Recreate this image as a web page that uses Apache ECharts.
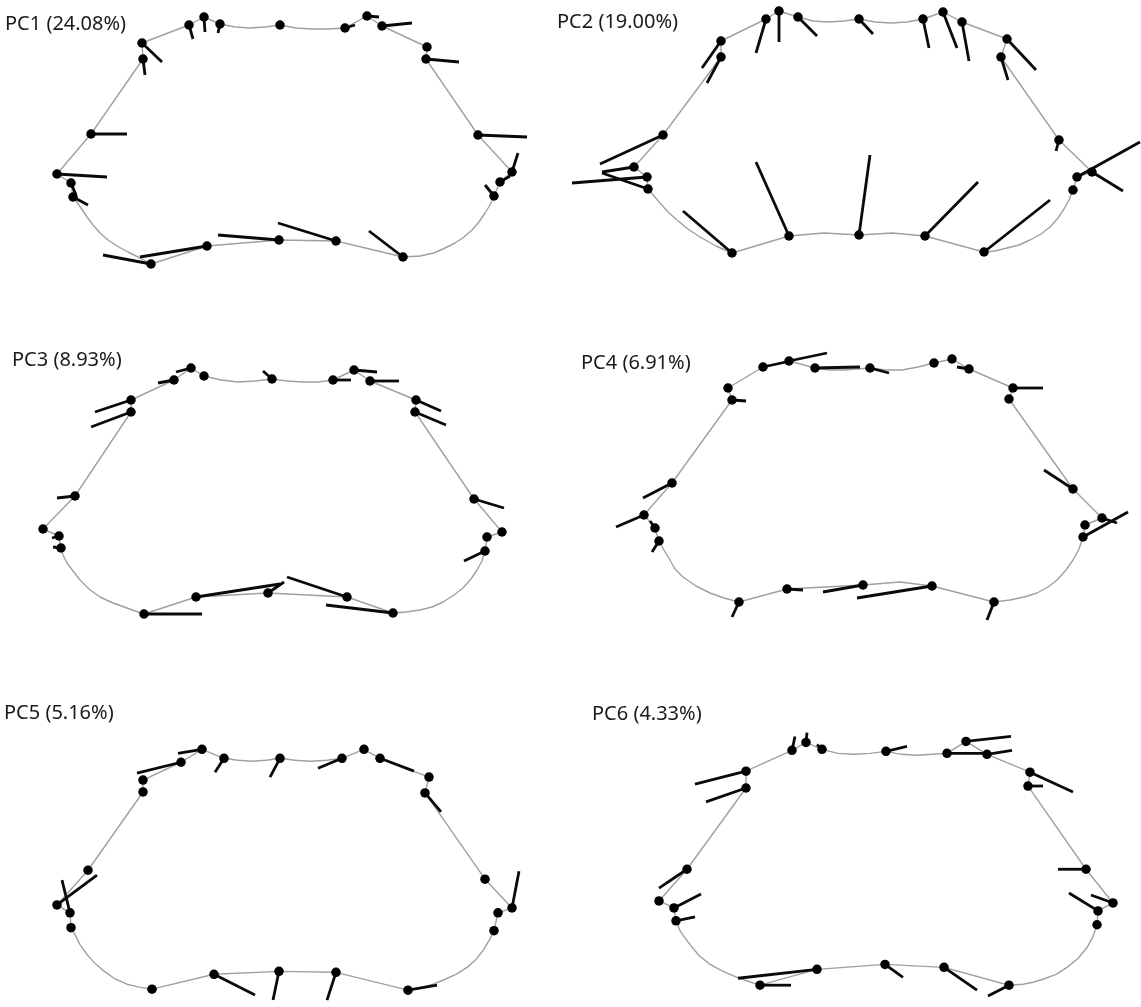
<!DOCTYPE html>
<html>
<head>
<meta charset="utf-8">
<title>PC shape changes</title>
<script src="https://cdn.jsdelivr.net/npm/echarts@6/dist/echarts.min.js"></script>
<style>
  html, body { margin: 0; padding: 0; background: #fff; }
  #chart { width: 1141px; height: 1007px; }
</style>
</head>
<body>
<div id="chart"></div>
<script>
// panel labels
var pcTitles = ['PC1 (24.08%)', 'PC2 (19.00%)', 'PC3 (8.93%)', 'PC4 (6.91%)', 'PC5 (5.16%)', 'PC6 (4.33%)'];

// landmarks: [x, y, vector end x, vector end y] in panel units
var pc1Dots = [
  [142, 43, 162, 62], [143, 59, 145, 75], [189, 25, 193, 39], [204, 17, 205, 32], [220, 24, 218, 33], [280, 25, 280, 25],
  [345, 28, 355, 25], [367, 16, 379, 17], [382, 26, 412, 23], [427, 47, 427, 47], [426, 59, 459, 62], [478, 135, 527, 137],
  [512, 172, 518, 153], [500, 182, 510, 176], [494, 196, 485, 185], [403, 257, 369, 231], [336, 241, 278, 223], [279, 240, 218, 235],
  [207, 246, 140, 257], [151, 264, 103, 255], [73, 197, 88, 205], [71, 183, 76, 195], [57, 174, 107, 177], [91, 134, 127, 134]
];
// outline through the landmarks, with extra points on the curved parts
var pc1Outline = [
  [142, 43], [189, 25], [204, 17], [220, 24], [235, 27], [250, 28], [265, 27], [280, 25], [296, 28], [312, 29], [328, 29], [345, 28],
  [367, 16], [382, 26], [427, 47], [426, 59], [478, 135], [512, 172], [500, 182], [494, 196], [490, 205], [485, 213], [479, 222],
  [472, 230], [464, 237], [455, 243], [445, 248], [434, 253], [420, 256], [403, 257], [336, 241], [279, 240], [207, 246], [151, 264],
  [140, 258], [128, 252], [117, 246], [108, 240], [100, 233], [93, 225], [87, 217], [81, 208], [76, 201], [73, 197], [71, 183],
  [57, 174], [91, 134], [143, 59], [142, 43]
];

var pc2Dots = [
  [151, 41, 132, 68], [151, 57, 137, 83], [196, 19, 186, 53], [209, 11, 209, 42], [228, 17, 247, 36], [289, 19, 303, 34],
  [353, 19, 359, 48], [373, 12, 387, 48], [392, 22, 399, 61], [437, 39, 466, 70], [431, 57, 438, 80], [489, 140, 486, 151],
  [522, 172, 553, 191], [507, 177, 570, 142], [503, 190, 503, 190], [414, 252, 480, 200], [355, 236, 408, 182], [289, 235, 300, 155],
  [219, 236, 186, 162], [162, 253, 113, 211], [78, 189, 32, 173], [77, 177, 2, 183], [64, 167, 32, 172], [93, 135, 30, 164]
];
var pc2Outline = [
  [151, 41], [196, 19], [209, 11], [228, 17], [243, 21], [258, 22], [274, 21], [289, 19], [305, 22], [321, 23], [337, 22], [353, 19],
  [373, 12], [392, 22], [437, 39], [431, 57], [489, 140], [522, 172], [507, 177], [503, 190], [499, 200], [494, 209], [488, 218],
  [480, 227], [471, 234], [460, 240], [449, 245], [437, 248], [425, 251], [414, 252], [355, 236], [322, 233], [289, 235], [254, 233],
  [219, 236], [162, 253], [146, 246], [130, 237], [118, 229], [107, 220], [98, 212], [90, 203], [84, 196], [78, 189], [77, 177],
  [64, 167], [93, 135], [151, 57], [151, 41]
];

var pc3Dots = [
  [131, 70, 95, 82], [131, 82, 91, 97], [174, 50, 158, 53], [191, 38, 176, 42], [204, 46, 204, 46], [272, 49, 263, 41],
  [333, 50, 351, 50], [354, 40, 377, 42], [370, 51, 399, 51], [416, 70, 441, 81], [415, 82, 446, 95], [474, 169, 504, 178],
  [502, 202, 502, 202], [487, 207, 487, 207], [485, 221, 464, 231], [393, 283, 326, 275], [347, 267, 287, 247], [268, 263, 284, 252],
  [196, 267, 280, 254], [144, 284, 202, 284], [61, 218, 53, 217], [59, 206, 52, 208], [43, 199, 43, 199], [75, 166, 57, 168]
];
var pc3Outline = [
  [131, 70], [174, 50], [191, 38], [204, 46], [221, 50], [238, 52], [255, 51], [272, 49], [287, 51], [303, 52], [318, 52], [333, 50],
  [354, 40], [370, 51], [416, 70], [415, 82], [474, 169], [502, 202], [487, 207], [485, 221], [482, 231], [477, 240], [471, 249],
  [463, 258], [454, 265], [443, 272], [432, 277], [420, 280], [406, 282], [393, 283], [347, 267], [268, 263], [196, 267], [144, 284],
  [135, 281], [127, 278], [113, 273], [100, 267], [89, 259], [80, 250], [73, 241], [67, 233], [63, 225], [61, 218], [59, 206],
  [43, 199], [75, 166], [131, 82], [131, 70]
];

var pc4Dots = [
  [158, 58, 158, 58], [162, 70, 176, 71], [193, 37, 216, 32], [219, 31, 257, 23], [245, 38, 290, 37], [300, 38, 319, 43],
  [364, 33, 364, 33], [382, 29, 382, 29], [399, 39, 387, 37], [443, 58, 473, 58], [439, 69, 439, 69], [503, 159, 474, 140],
  [532, 188, 547, 193], [515, 195, 515, 195], [513, 207, 558, 182], [424, 272, 417, 290], [362, 256, 287, 268], [293, 255, 253, 262],
  [217, 259, 233, 260], [169, 272, 162, 287], [89, 211, 82, 222], [85, 198, 80, 191], [74, 185, 46, 197], [102, 153, 73, 168]
];
var pc4Outline = [
  [158, 58], [193, 37], [219, 31], [245, 38], [259, 40], [273, 40], [287, 39], [300, 38], [316, 40], [332, 40], [348, 37], [364, 33],
  [382, 29], [399, 39], [443, 58], [439, 69], [503, 159], [532, 188], [515, 195], [513, 207], [509, 219], [503, 230], [496, 240],
  [487, 250], [478, 257], [467, 263], [454, 267], [440, 270], [424, 272], [362, 256], [330, 252], [293, 255], [217, 259], [169, 272],
  [154, 268], [140, 263], [126, 256], [113, 247], [105, 239], [100, 230], [94, 220], [89, 211], [85, 198], [74, 185], [102, 153],
  [162, 70], [158, 58]
];

var pc5Dots = [
  [143, 101, 143, 101], [143, 113, 143, 113], [181, 83, 137, 94], [202, 70, 178, 74], [224, 79, 215, 93], [280, 79, 270, 98],
  [342, 79, 318, 89], [364, 70, 364, 70], [380, 79, 414, 92], [429, 98, 429, 98], [425, 114, 441, 133], [485, 201, 485, 201],
  [512, 230, 519, 193], [498, 235, 498, 235], [494, 253, 494, 253], [408, 313, 437, 308], [336, 295, 327, 323], [279, 294, 273, 323],
  [214, 297, 255, 318], [152, 312, 152, 312], [71, 250, 71, 250], [70, 235, 62, 202], [57, 227, 97, 197], [88, 192, 88, 192]
];
var pc5Outline = [
  [143, 101], [181, 83], [202, 70], [224, 79], [238, 81], [252, 82], [266, 81], [280, 79], [295, 81], [311, 82], [327, 81], [342, 79],
  [364, 70], [380, 79], [429, 98], [425, 114], [485, 201], [512, 230], [498, 235], [494, 253], [489, 263], [483, 273], [476, 282],
  [467, 290], [456, 297], [443, 303], [433, 307], [423, 310], [408, 313], [336, 295], [279, 294], [214, 297], [152, 312], [139, 310],
  [127, 307], [114, 301], [103, 293], [94, 285], [87, 277], [80, 267], [75, 257], [71, 250], [70, 235], [57, 227], [88, 192],
  [143, 113], [143, 101]
];

var pc6Dots = [
  [176, 92, 125, 105], [176, 109, 136, 123], [222, 71, 225, 57], [236, 63, 237, 53], [252, 70, 247, 65], [316, 72, 337, 67],
  [377, 74, 415, 74], [396, 62, 441, 57], [417, 75, 442, 71], [460, 93, 503, 113], [458, 107, 473, 107], [516, 191, 488, 191],
  [543, 225, 521, 217], [528, 233, 499, 215], [527, 247, 527, 247], [439, 308, 418, 319], [374, 290, 407, 313], [315, 287, 333, 300],
  [247, 292, 168, 301], [190, 308, 221, 308], [106, 243, 125, 239], [104, 230, 131, 216], [89, 223, 89, 223], [117, 191, 89, 210]
];
var pc6Outline = [
  [176, 92], [222, 71], [236, 63], [252, 70], [268, 74], [284, 75], [300, 74], [316, 72], [331, 75], [347, 76], [362, 75], [377, 74],
  [396, 62], [417, 75], [460, 93], [458, 107], [516, 191], [543, 225], [528, 233], [527, 247], [523, 259], [517, 270], [508, 281],
  [497, 290], [486, 297], [473, 302], [463, 305], [453, 307], [439, 308], [374, 290], [315, 287], [247, 292], [190, 308], [178, 304],
  [167, 300], [153, 294], [140, 287], [129, 278], [120, 267], [114, 259], [110, 253], [106, 243], [104, 230], [89, 223], [117, 191],
  [176, 109], [176, 92]
];

var panelDots = [pc1Dots, pc2Dots, pc3Dots, pc4Dots, pc5Dots, pc6Dots];
var panelOutlines = [pc1Outline, pc2Outline, pc3Outline, pc4Outline, pc5Outline, pc6Outline];

// layout
var panelW = 570, panelH = 330;
var rowTops = [0, 330, 680];
var titleSpots = [[5, 14], [557, 12], [12, 350], [581, 353], [4, 703], [592, 704]];

var chart = echarts.init(document.getElementById('chart'));

var grids = [], xAxes = [], yAxes = [], series = [], titles = [];

function drawVector(params, api) {
  var a = api.coord([api.value(0), api.value(1)]);
  var b = api.coord([api.value(2), api.value(3)]);
  return {
    type: 'line',
    shape: { x1: a[0], y1: a[1], x2: b[0], y2: b[1] },
    style: { stroke: '#0a0a0a', lineWidth: 2.8 }
  };
}

for (var i = 0; i < 6; i++) {
  grids.push({ left: (i % 2) * panelW, top: rowTops[Math.floor(i / 2)], width: panelW, height: panelH });
  xAxes.push({ gridIndex: i, type: 'value', min: 0, max: panelW, show: false });
  yAxes.push({ gridIndex: i, type: 'value', min: 0, max: panelH, inverse: true, show: false });
  titles.push({
    text: pcTitles[i], left: titleSpots[i][0], top: titleSpots[i][1], padding: 0,
    textStyle: { fontFamily: 'Noto Sans', fontSize: 20, fontWeight: 'normal', color: '#1a1a1a' }
  });
  series.push({
    type: 'line', xAxisIndex: i, yAxisIndex: i, data: panelOutlines[i],
    smooth: false, symbol: 'none', silent: true, z: 1,
    lineStyle: { color: '#a0a0a0', width: 1.4 }
  });
  series.push({
    type: 'custom', xAxisIndex: i, yAxisIndex: i, data: panelDots[i],
    encode: { x: [0, 2], y: [1, 3] }, renderItem: drawVector, silent: true, z: 2
  });
  series.push({
    type: 'scatter', xAxisIndex: i, yAxisIndex: i, data: panelDots[i],
    encode: { x: 0, y: 1 }, symbolSize: 9.5, silent: true, z: 3,
    itemStyle: { color: '#000000', opacity: 1 }
  });
}

chart.setOption({
  animation: false,
  backgroundColor: '#ffffff',
  title: titles,
  grid: grids,
  xAxis: xAxes,
  yAxis: yAxes,
  series: series
});
</script>
</body>
</html>
